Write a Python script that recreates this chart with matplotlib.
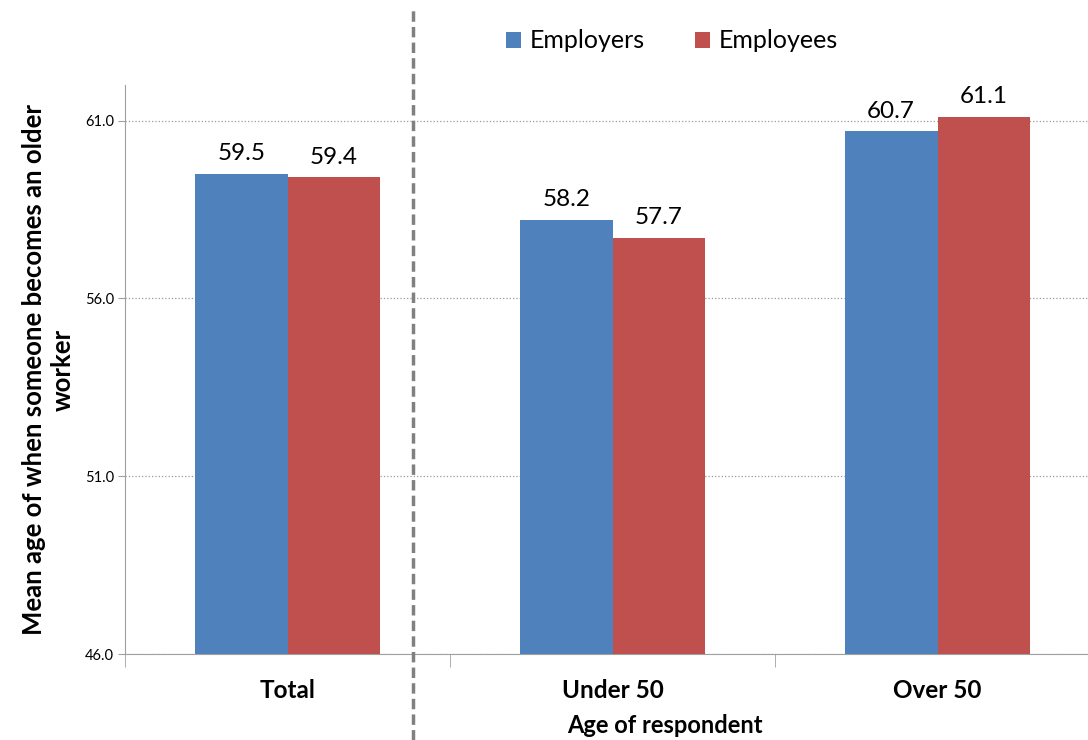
import matplotlib.pyplot as plt
from matplotlib.lines import Line2D
import numpy as np

categories = ['Total', 'Under 50', 'Over 50']
employers = [59.5, 58.2, 60.7]
employees = [59.4, 57.7, 61.1]
series_names = ['Employers', 'Employees']
y_ticks = [46.0, 51.0, 56.0, 61.0]

plt.rcParams['font.family'] = ['Lato', 'DejaVu Sans']

fig = plt.figure(figsize=(10.88, 7.4), dpi=100)
ax = fig.add_axes([125 / 1088, 86 / 740, 975 / 1088, 569 / 740])

pos = np.arange(len(categories))
width = 0.285
blue = '#4F81BD'
red = '#C0504D'

b1 = ax.bar(pos - width / 2, employers, width, color=blue, label=series_names[0], zorder=3)
b2 = ax.bar(pos + width / 2, employees, width, color=red, label=series_names[1], zorder=3)

for bars, vals in ((b1, employers), (b2, employees)):
    for rect, v in zip(bars, vals):
        ax.annotate('%.1f' % v, (rect.get_x() + rect.get_width() / 2, v),
                    xytext=(0, 7), textcoords='offset points',
                    ha='center', va='bottom', fontsize=17.5)

ax.set_xlim(-0.5, len(categories) - 0.5)
ax.set_ylim(46, 62)
ax.set_yticks(y_ticks)
ax.set_yticklabels(['%.1f' % t for t in y_ticks], fontsize=10.5)
ax.yaxis.grid(True, linestyle=':', color='#9a9a9a', linewidth=0.9, zorder=0)
ax.tick_params(axis='y', length=5, color='#a0a0a0', pad=3)

ax.set_xticks(pos)
ax.set_xticklabels(categories, fontsize=17.5, fontweight='bold')
ax.set_xticks(np.arange(len(categories) + 1) - 0.5, minor=True)
ax.tick_params(axis='x', which='major', length=0, pad=18)
ax.tick_params(axis='x', which='minor', length=9, color='#a0a0a0')

for side in ('top', 'right'):
    ax.spines[side].set_visible(False)
for side in ('left', 'bottom'):
    ax.spines[side].set_color('#a0a0a0')

ax.set_ylabel('Mean age of when someone becomes an older\nworker',
              fontsize=18.5, fontweight='bold')
ax.yaxis.set_label_coords(-0.052, 0.5)
ax.set_xlabel('Age of respondent', fontsize=17, fontweight='bold')
ax.xaxis.set_label_coords(0.554, -0.105)

ax.legend(loc='center', bbox_to_anchor=(672 / 1088, 1 - 41 / 740),
          bbox_transform=fig.transFigure, ncol=2, frameon=False,
          fontsize=18, handlelength=0.6, handleheight=0.6,
          columnspacing=2.0, handletextpad=0.35)

# dashed separator between total and age groups
fig.add_artist(Line2D([413 / 1088, 413 / 1088], [0, 1 - 10 / 740],
                      transform=fig.transFigure, color='#808080',
                      linestyle='--', linewidth=2.5, dashes=(3, 1.5)))

fig.savefig('out.png', dpi=100)
